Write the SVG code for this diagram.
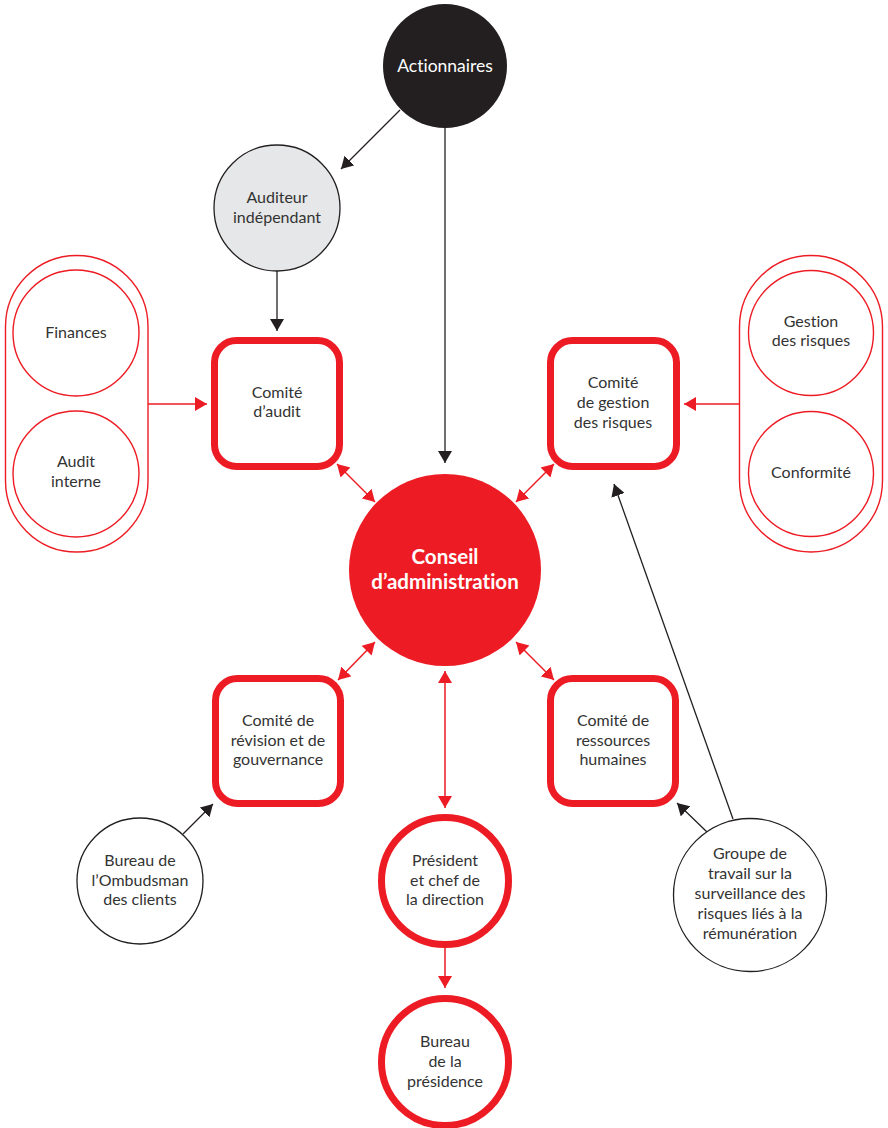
<svg xmlns="http://www.w3.org/2000/svg" width="888" height="1128" viewBox="0 0 888 1128">
<style>
text{font-family:Lato,"Liberation Sans",sans-serif;font-size:16px;fill:#333;text-anchor:middle;font-variant-ligatures:none;font-feature-settings:"liga" 0}
.w{fill:#fff}
.b{font-weight:bold;font-size:20.5px}
.box{fill:#fff;stroke:#ed1c24;stroke-width:7}
.rc{fill:#fff;stroke:#ed1c24;stroke-width:7}
.thin{fill:#fff;stroke:#ed1c24;stroke-width:1.4}
.bc{fill:#fff;stroke:#231f20;stroke-width:1.3}
.rl{stroke:#ed1c24;stroke-width:1.5;fill:none}
.kl{stroke:#231f20;stroke-width:1.3;fill:none}
</style>
<defs>
<marker id="ka" markerUnits="userSpaceOnUse" markerWidth="14" markerHeight="14" viewBox="0 0 14 14" refX="12" refY="7" orient="auto"><path d="M0,0 L12,7 L0,14 Z" fill="#231f20"/></marker>
<marker id="ra" markerUnits="userSpaceOnUse" markerWidth="14" markerHeight="14" viewBox="0 0 14 14" refX="12" refY="7" orient="auto"><path d="M0,0 L12,7 L0,14 Z" fill="#ed1c24"/></marker>
<marker id="rs" markerUnits="userSpaceOnUse" markerWidth="14" markerHeight="14" viewBox="0 0 14 14" refX="0" refY="7" orient="auto"><path d="M12,0 L0,7 L12,14 Z" fill="#ed1c24"/></marker>
</defs>
<g id="connectors">
<line class="kl" x1="400" y1="110" x2="341" y2="169" marker-end="url(#ka)"/>
<line class="kl" x1="277" y1="271" x2="277" y2="331" marker-end="url(#ka)"/>
<line class="kl" x1="445" y1="128" x2="445" y2="463" marker-end="url(#ka)"/>
<line class="rl" x1="148" y1="404" x2="207" y2="404" marker-end="url(#ra)"/>
<line class="rl" x1="739" y1="404" x2="684" y2="404" marker-end="url(#ra)"/>
<line class="rl" x1="337" y1="464" x2="375" y2="502" marker-start="url(#rs)" marker-end="url(#ra)"/>
<line class="rl" x1="554" y1="464" x2="516" y2="502" marker-start="url(#rs)" marker-end="url(#ra)"/>
<line class="rl" x1="375" y1="642" x2="338" y2="680" marker-start="url(#rs)" marker-end="url(#ra)"/>
<line class="rl" x1="516" y1="642" x2="554" y2="680" marker-start="url(#rs)" marker-end="url(#ra)"/>
<line class="rl" x1="445" y1="671" x2="445" y2="808" marker-start="url(#rs)" marker-end="url(#ra)"/>
<line class="rl" x1="445" y1="947" x2="445" y2="988" marker-end="url(#ra)"/>
<line class="kl" x1="183" y1="834" x2="213" y2="804" marker-end="url(#ka)"/>
<line class="kl" x1="707" y1="832" x2="677" y2="803" marker-end="url(#ka)"/>
<line class="kl" x1="733" y1="819" x2="614" y2="484" marker-end="url(#ka)"/>
</g>
<g id="actionnaires">
<circle cx="445" cy="66" r="62" fill="#231f20"/>
<text class="w" x="445" y="72" style="font-size:17.5px">Actionnaires</text>
</g>
<g id="auditeur">
<circle cx="277" cy="208" r="63" fill="#e6e7e8" stroke="#231f20" stroke-width="1.3"/>
<text x="277" y="203">Auditeur</text>
<text x="277" y="223">indépendant</text>
</g>
<g id="groupe-gauche">
<rect class="thin" x="5.5" y="255.5" width="142.5" height="296.5" rx="71.25"/>
</g>
<g id="finances">
<circle class="thin" cx="76" cy="333" r="63"/>
<text x="76" y="338">Finances</text>
</g>
<g id="audit-interne">
<circle class="thin" cx="76" cy="474" r="63"/>
<text x="76" y="467">Audit</text>
<text x="76" y="487">interne</text>
</g>
<g id="comite-audit">
<rect class="box" x="214.5" y="340.5" width="125" height="126" rx="22"/>
<text x="277" y="398">Comité</text>
<text x="277" y="417">d’audit</text>
</g>
<g id="groupe-droit">
<rect class="thin" x="739.5" y="255.5" width="143" height="296.5" rx="71.5"/>
</g>
<g id="gestion-risques">
<circle class="thin" cx="811" cy="333" r="62.5"/>
<text x="811" y="327">Gestion</text>
<text x="811" y="346">des risques</text>
</g>
<g id="conformite">
<circle class="thin" cx="811" cy="474" r="62.5"/>
<text x="811" y="478">Conformité</text>
</g>
<g id="comite-gestion-risques">
<rect class="box" x="550.5" y="340.5" width="126" height="126" rx="22"/>
<text x="613" y="388">Comité</text>
<text x="613" y="408">de gestion</text>
<text x="613" y="428">des risques</text>
</g>
<g id="conseil">
<circle cx="445" cy="570" r="96" fill="#ed1c24"/>
<text class="w b" x="445" y="564">Conseil</text>
<text class="w b" x="445" y="589">d’administration</text>
</g>
<g id="comite-revision">
<rect class="box" x="215.5" y="678.5" width="125" height="125" rx="22"/>
<text x="278" y="726">Comité de</text>
<text x="278" y="746">révision et de</text>
<text x="278" y="765">gouvernance</text>
</g>
<g id="comite-rh">
<rect class="box" x="550.5" y="678.5" width="125" height="125" rx="22"/>
<text x="613" y="726">Comité de</text>
<text x="613" y="746">ressources</text>
<text x="613" y="765">humaines</text>
</g>
<g id="ombudsman">
<circle class="bc" cx="140" cy="881" r="63"/>
<text x="140" y="866">Bureau de</text>
<text x="140" y="886">l’Ombudsman</text>
<text x="140" y="905">des clients</text>
</g>
<g id="president">
<circle class="rc" cx="445" cy="881" r="63.5"/>
<text x="445" y="866">Président</text>
<text x="445" y="886">et chef de</text>
<text x="445" y="905">la direction</text>
</g>
<g id="groupe-travail">
<circle class="bc" cx="750" cy="895" r="76.5"/>
<text x="750" y="859">Groupe de</text>
<text x="750" y="879">travail sur la</text>
<text x="750" y="899">surveillance des</text>
<text x="750" y="919">risques liés à la</text>
<text x="750" y="939">rémunération</text>
</g>
<g id="bureau-presidence">
<circle class="rc" cx="445" cy="1062" r="63.5"/>
<text x="445" y="1047">Bureau</text>
<text x="445" y="1067">de la</text>
<text x="445" y="1087">présidence</text>
</g>
</svg>
